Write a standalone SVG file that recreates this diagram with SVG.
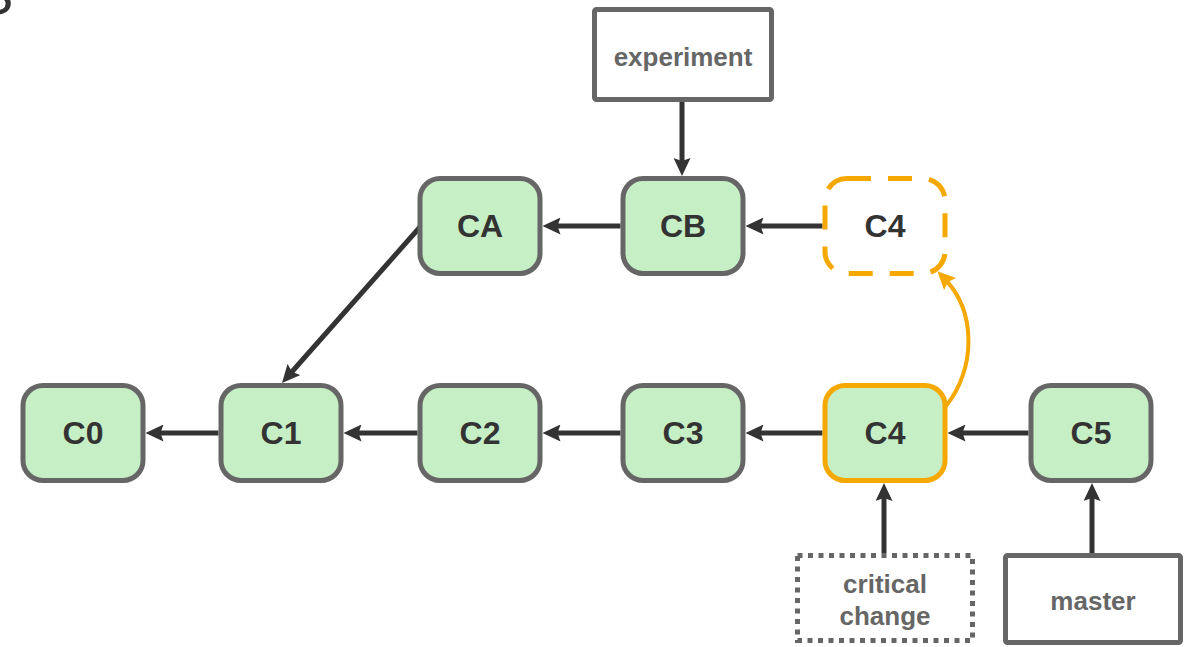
<svg xmlns="http://www.w3.org/2000/svg" width="1191" height="647" viewBox="0 0 1191 647">
<style>
.n{fill:#C6EFC6;stroke:#666;stroke-width:5}
.hl{fill:#C6EFC6;stroke:#F5A800;stroke-width:5}
.ghost{fill:#fff;stroke:#F5A800;stroke-width:5;stroke-dasharray:24 17}
.lbl{font-family:"Liberation Sans",Arial,sans-serif;font-weight:bold;font-size:32px;fill:#333;text-anchor:middle}
.ref{fill:#fff;stroke:#666;stroke-width:5}
.dot{fill:#fff;stroke:#666;stroke-width:5;stroke-dasharray:5 5.5}
.rl{font-family:"Liberation Sans",Arial,sans-serif;font-weight:bold;font-size:26px;fill:#666;text-anchor:middle}
.e{stroke:#333;stroke-width:5;fill:none}
.o{stroke:#F5A800;stroke-width:4;fill:none}
</style>
<defs>
<marker id="ah" viewBox="0 0 18 17" refX="10" refY="8.5" markerWidth="18" markerHeight="17" markerUnits="userSpaceOnUse" orient="auto">
<path d="M0,0 L18,8.5 L0,17 L3,8.5 z" fill="#333"/>
</marker>
<marker id="aho" viewBox="0 0 18 17" refX="10" refY="8.5" markerWidth="18" markerHeight="17" markerUnits="userSpaceOnUse" orient="auto">
<path d="M0,0 L18,8.5 L0,17 L3,8.5 z" fill="#F5A800"/>
</marker>
</defs>
<text x="-24" y="14" style="font-family:'Liberation Sans',Arial,sans-serif;font-size:56px;fill:#333">S</text>
<g id="connectors">
<line class="e" x1="218.5" y1="433" x2="153.5" y2="433" marker-end="url(#ah)"/>
<line class="e" x1="417.5" y1="433" x2="351.5" y2="433" marker-end="url(#ah)"/>
<line class="e" x1="620.5" y1="433" x2="550.5" y2="433" marker-end="url(#ah)"/>
<line class="e" x1="822.5" y1="433" x2="753.5" y2="433" marker-end="url(#ah)"/>
<line class="e" x1="1028.5" y1="433" x2="955.5" y2="433" marker-end="url(#ah)"/>
<line class="e" x1="620.5" y1="226" x2="550.5" y2="226" marker-end="url(#ah)"/>
<line class="e" x1="822.5" y1="226" x2="753.5" y2="226" marker-end="url(#ah)"/>
<line class="e" x1="420" y1="227" x2="287.3" y2="377" marker-end="url(#ah)"/>
<line class="e" x1="682" y1="102" x2="682" y2="168" marker-end="url(#ah)"/>
<line class="e" x1="884" y1="553" x2="884" y2="491" marker-end="url(#ah)"/>
<line class="e" x1="1092" y1="553" x2="1092" y2="491" marker-end="url(#ah)"/>
<path class="o" d="M946,406 C975,370 978,312 943,277" marker-end="url(#aho)"/>
</g>
<g id="C0"><rect class="n" x="23" y="385.5" width="120" height="95" rx="20"/><text class="lbl" x="83" y="444">C0</text></g>
<g id="C1"><rect class="n" x="221" y="385.5" width="120" height="95" rx="20"/><text class="lbl" x="281" y="444">C1</text></g>
<g id="C2"><rect class="n" x="420" y="385.5" width="120" height="95" rx="20"/><text class="lbl" x="480" y="444">C2</text></g>
<g id="C3"><rect class="n" x="623" y="385.5" width="120" height="95" rx="20"/><text class="lbl" x="683" y="444">C3</text></g>
<g id="C4"><rect class="hl" x="825" y="385.5" width="120" height="95" rx="20"/><text class="lbl" x="885" y="444">C4</text></g>
<g id="C5"><rect class="n" x="1031" y="385.5" width="120" height="95" rx="20"/><text class="lbl" x="1091" y="444">C5</text></g>
<g id="CA"><rect class="n" x="420" y="178.5" width="120" height="95" rx="20"/><text class="lbl" x="480" y="237">CA</text></g>
<g id="CB"><rect class="n" x="623" y="178.5" width="120" height="95" rx="20"/><text class="lbl" x="683" y="237">CB</text></g>
<g id="C4new"><rect class="ghost" x="825" y="178.5" width="120" height="95" rx="22"/><text class="lbl" x="885" y="237">C4</text></g>
<g id="experiment"><rect class="ref" x="594.5" y="9.5" width="177" height="90" rx="2"/><text class="rl" x="683" y="66">experiment</text></g>
<g id="critical"><rect class="dot" x="797.5" y="555.5" width="175" height="85"/><text class="rl" x="885" y="593">critical</text><text class="rl" x="885" y="625">change</text></g>
<g id="master"><rect class="ref" x="1005.5" y="555.5" width="175" height="87" rx="2"/><text class="rl" x="1093" y="610">master</text></g>
</svg>
